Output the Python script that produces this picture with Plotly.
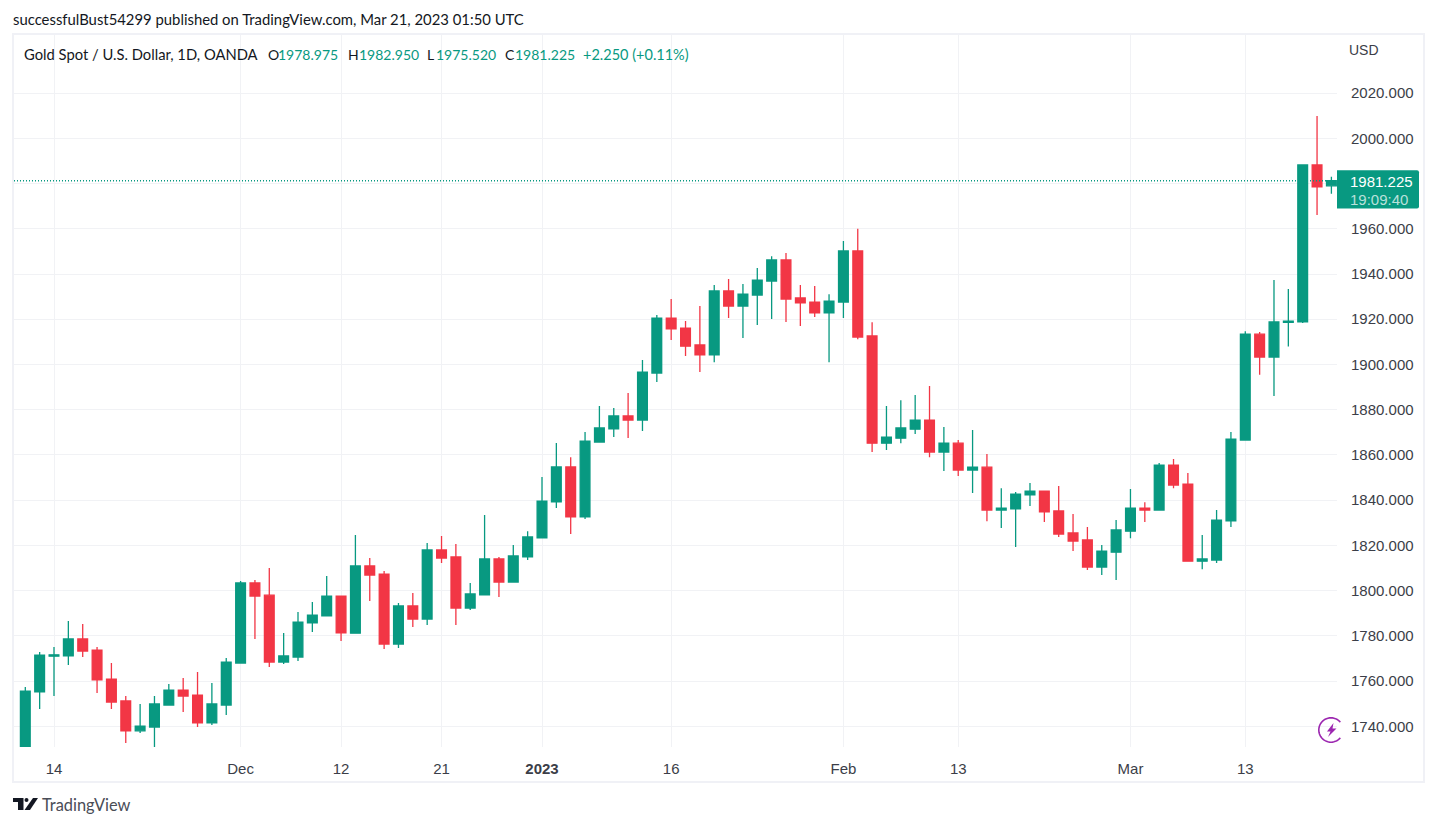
import numpy as np
import plotly.graph_objects as go

W, H = 1437, 826
L_M, R_M, T_M, B_M = 14, 100, 35, 79

GREEN = "#089981"
RED = "#F23645"
GRID = "#f1f2f5"
FRAME = "#f0f1f6"
TEXT = "#131722"
AXIS_TEXT = "#3b3e48"

opens = [1729.0,1755.2,1771.0,1771.1,1778.6,1773.7,1760.9,1751.2,1738.0,1739.7,1749.4,1756.0,1753.8,1741.5,1749.4,1768.0,1803.4,1798.0,1768.4,1770.6,1785.7,1788.8,1797.6,
         1781.2,1810.9,1807.3,1776.4,1793.2,1787.4,1818.0,1814.9,1792.3,1798.1,1814.0,1803.8,1814.9,1823.3,1839.2,1854.7,1832.6,1865.7,1871.5,1877.2,1875.4,1896.2,
         1920.5,1916.1,1908.6,1904.2,1932.5,1925.8,1930.7,1936.9,1946.2,1929.4,1927.6,1922.8,1927.6,1950.2,1912.6,1865.2,1867.4,1871.4,1875.4,1861.3,1865.2,1853.3,
         1854.6,1835.6,1836.1,1842.3,1844.0,1835.2,1825.5,1822.4,1810.4,1817.0,1826.3,1836.5,1835.6,1855.5,1847.1,1813.0,1813.5,1830.8,1866.6,1913.4,1903.3,1918.6,1918.8,1988.2,1978.975]
highs = [1757.4,1772.9,1775.1,1786.6,1785.2,1775.1,1768.0,1753.4,1749.9,1753.4,1758.7,1761.4,1764.0,1759.1,1770.2,1804.3,1804.7,1810.0,1781.3,1790.5,1795.0,1806.5,1797.6,
         1824.6,1814.4,1808.7,1794.5,1798.9,1821.0,1824.1,1820.6,1803.4,1833.4,1814.9,1820.2,1826.3,1850.2,1865.3,1859.0,1870.1,1881.6,1880.7,1887.4,1902.0,1921.9,
         1928.9,1919.2,1925.8,1935.1,1937.8,1935.6,1942.6,1947.9,1949.3,1935.1,1934.7,1931.1,1954.6,1960.0,1918.7,1881.6,1884.2,1886.5,1890.5,1872.3,1866.6,1871.0,
         1860.4,1845.3,1843.6,1847.6,1844.0,1846.3,1833.9,1828.1,1820.2,1831.2,1844.9,1839.1,1856.4,1858.2,1852.0,1824.6,1835.6,1870.1,1914.7,1914.3,1937.3,1933.4,1988.2,2009.9,1982.95]
lows = [1727.0,1747.6,1753.4,1767.1,1770.6,1754.7,1747.6,1732.6,1737.0,1729.0,1749.4,1746.3,1739.7,1740.6,1745.0,1768.0,1778.6,1766.2,1767.5,1768.9,1781.7,1788.8,1777.7,
        1781.2,1795.4,1774.2,1774.6,1783.9,1784.8,1812.2,1784.8,1791.4,1798.1,1797.2,1803.8,1813.5,1823.3,1836.5,1825.0,1831.7,1865.7,1867.9,1867.5,1870.6,1892.2,
        1910.8,1903.7,1896.7,1901.0,1920.5,1911.7,1917.5,1920.1,1918.8,1917.0,1921.0,1901.0,1920.5,1911.2,1861.3,1862.2,1865.2,1869.2,1859.0,1852.9,1850.7,1843.2,
        1830.7,1827.7,1819.3,1837.4,1830.3,1823.7,1817.5,1809.1,1806.9,1804.7,1823.2,1830.3,1835.6,1845.3,1813.0,1809.5,1812.2,1828.1,1866.6,1895.4,1886.0,1907.9,1918.3,1966.1,1975.52]
closes = [1755.6,1771.5,1771.6,1778.6,1773.3,1760.5,1750.7,1738.0,1740.1,1749.9,1756.0,1753.4,1741.5,1749.9,1768.4,1803.4,1797.6,1768.4,1771.1,1786.1,1789.2,1797.6,1781.3,
          1810.9,1806.9,1776.4,1793.2,1787.4,1818.0,1814.4,1792.3,1798.5,1814.0,1803.8,1815.3,1823.7,1839.6,1854.7,1832.6,1866.1,1871.9,1877.2,1875.4,1896.6,1920.5,
          1915.7,1908.1,1904.2,1932.5,1925.8,1931.1,1937.3,1946.2,1928.9,1927.2,1922.8,1928.0,1950.2,1912.1,1865.2,1867.9,1871.9,1875.4,1861.3,1865.2,1853.3,1854.6,
          1835.6,1836.5,1842.7,1844.0,1834.8,1825.0,1821.9,1810.4,1817.5,1826.8,1836.5,1835.6,1855.5,1846.7,1813.0,1814.0,1831.2,1867.0,1913.4,1903.3,1918.8,1919.2,1988.2,1978.5,1981.225]
x_idx = list(range(len(closes)))

price_ticks = [1740,1760,1780,1800,1820,1840,1860,1880,1900,1920,1940,1960,1980,2000,2020]
price_labels = ["1740.000","1760.000","1780.000","1800.000","1820.000","1840.000","1860.000","1880.000","1900.000","1920.000","1940.000","1960.000","","2000.000","2020.000"]
date_ticks = [2,15,22,29,36,45,57,65,77,85]
date_labels = ["14","Dec","12","21","<b>2023</b>","16","Feb","13","Mar","13"]
last_price = closes[-1]

def X(px): return (px - L_M) / (W - L_M - R_M)
def Y(py): return 1 - (py - T_M) / (H - T_M - B_M)
def P(pts, close=True):
    s = "M " + " L ".join(f"{X(a):.5f},{Y(b):.5f}" for a, b in pts)
    return s + (" Z" if close else "")

fig = go.Figure(go.Candlestick(
    x=x_idx, open=opens, high=highs, low=lows, close=closes,
    increasing=dict(line=dict(color=GREEN, width=1.3), fillcolor=GREEN),
    decreasing=dict(line=dict(color=RED, width=1.3), fillcolor=RED),
    whiskerwidth=0,
))

shapes = []
shapes.append(dict(type="rect", xref="paper", yref="paper", x0=X(13), x1=X(1424), y0=Y(34), y1=Y(782),
                   line=dict(color=FRAME, width=2), layer="below"))
shapes.append(dict(type="line", xref="paper", yref="y", x0=0, x1=1, y0=last_price, y1=last_price,
                   line=dict(color=GREEN, width=1.5, dash="1px,2px"), layer="above"))
shapes.append(dict(type="path", xref="paper", yref="y", xsizemode="pixel", ysizemode="pixel",
                   xanchor=1, yanchor=last_price,
                   path="M 0,10.6 L 80,10.6 Q 82,10.6 82,8.6 L 82,-25.7 Q 82,-27.7 80,-27.7 L 0,-27.7 Z",
                   fillcolor=GREEN, line=dict(width=0), layer="above"))
LOGO = "#131722"
shapes.append(dict(type="path", xref="paper", yref="paper", fillcolor=LOGO, line=dict(width=0),
                   path=P([(13,798),(23.5,798),(23.5,810),(18,810),(18,802),(13,802)])))
shapes.append(dict(type="circle", xref="paper", yref="paper", fillcolor=LOGO, line=dict(width=0),
                   x0=X(24.5), x1=X(28.5), y0=Y(802), y1=Y(798)))
shapes.append(dict(type="path", xref="paper", yref="paper", fillcolor=LOGO, line=dict(width=0),
                   path=P([(33,798),(38,798),(30,810),(24.5,810)])))
PURPLE = "#9c27b0"
t = np.linspace(np.deg2rad(40), np.deg2rad(320), 40)
arc = [(1331 + 12.2*np.cos(a), 730 - 12.2*np.sin(a)) for a in t]
shapes.append(dict(type="path", xref="paper", yref="paper", path=P(arc, close=False),
                   line=dict(color=PURPLE, width=1.6)))
shapes.append(dict(type="path", xref="paper", yref="paper", fillcolor=PURPLE, line=dict(width=0),
                   path=P([(1333.5,723),(1327,731.5),(1330.5,731.5),(1328,737),(1336.5,728.5),(1332.5,728.5)])))

UI_FONT = "Lato"
AX_FONT = "Liberation Sans"
def note(px, py, text, color=TEXT, size=14, family=UI_FONT):
    return dict(xref="paper", yref="paper", x=X(px - 2), y=Y(py), text=text, showarrow=False,
                xanchor="left", yanchor="middle", align="left",
                font=dict(family=family, size=size, color=color))

annotations = [
    note(13, 19.5, "successfulBust54299 published on TradingView.com, Mar 21, 2023 01:50 UTC", size=14.85),
    note(24, 54, "Gold Spot / U.S. Dollar, 1D, OANDA", size=14.75),
    note(268, 54, "O"), note(278, 54, "1978.975", GREEN),
    note(348, 54, "H"), note(359, 54, "1982.950", GREEN),
    note(427, 54, "L"), note(436, 54, "1975.520", GREEN),
    note(505, 54, "C"), note(515, 54, "1981.225", GREEN),
    note(583, 54, "+2.250 (+0.11%)", GREEN, 14.5),
    note(1349, 50.5, "USD", AXIS_TEXT, 14, AX_FONT),
    note(1350, 181.5, "1981.225", "#ffffff", 15, AX_FONT),
    note(1350, 199.5, "19:09:40", "rgba(255,255,255,0.72)", 15, AX_FONT),
    note(42, 804.5, "TradingView", "#4a4d57", 16.4, UI_FONT),
]

fig.update_layout(
    width=W, height=H, autosize=False,
    margin=dict(l=L_M, r=R_M, t=T_M, b=B_M, pad=0),
    paper_bgcolor="white", plot_bgcolor="white",
    showlegend=False, boxgap=0.32, boxgroupgap=0,
    shapes=shapes, annotations=annotations,
    font=dict(family=AX_FONT, size=15, color=AXIS_TEXT),
    xaxis=dict(range=[-0.787, 91.39], rangeslider=dict(visible=False), tickmode="array",
               tickvals=date_ticks, ticktext=date_labels, showgrid=True, gridcolor=GRID, gridwidth=1,
               zeroline=False, showline=False, ticks="outside", ticklen=8, tickcolor="rgba(0,0,0,0)",
               tickfont=dict(family=AX_FONT, size=15, color=AXIS_TEXT)),
    yaxis=dict(range=[1730.85, 2045.68], side="right", tickmode="array",
               tickvals=price_ticks, ticktext=price_labels, showgrid=True, gridcolor=GRID, gridwidth=1,
               zeroline=False, showline=False, ticks="outside", ticklen=10, tickcolor="rgba(0,0,0,0)",
               tickfont=dict(family=AX_FONT, size=15, color=AXIS_TEXT)),
)

fig.write_html("out.html", config=dict(displayModeBar=False),
               post_script="document.body.style.margin='0';document.body.style.overflow='hidden';")
